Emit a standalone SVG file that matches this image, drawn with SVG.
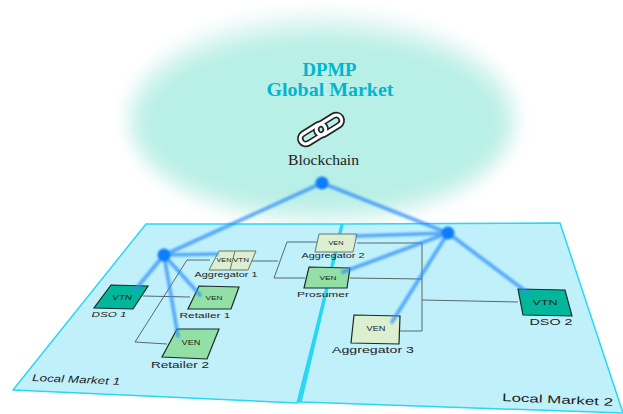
<svg xmlns="http://www.w3.org/2000/svg" width="623" height="414" viewBox="0 0 623 414">
<style>
.panel{fill:#c0f1fb;stroke:#2bd6f4;stroke-width:1.5;stroke-linejoin:round}
.wire{fill:none;stroke:#4a5a5c;stroke-width:.9}
.hub{fill:#0a7cff}
.link{fill:none;stroke:#2f8ffb;stroke-width:3.6;stroke-linecap:round;opacity:.75}
.node{stroke:#1c2a26;stroke-width:1.2}
.lite{stroke:#6a7466;stroke-width:1}
.vtn{fill:#00b79b}
.ven{fill:#93e0a6}
.agg{fill:#dcefd0}
.t{font-family:"Liberation Sans",Arial,sans-serif;fill:#222}
.c{text-anchor:middle}
.s{font-family:"Liberation Serif","Times New Roman",serif}
</style>
<defs>
<filter id="cloud" x="-30%" y="-30%" width="160%" height="160%"><feGaussianBlur stdDeviation="10"/></filter>
<filter id="halo" x="-30%" y="-30%" width="160%" height="160%"><feGaussianBlur stdDeviation="8"/></filter>
<filter id="soft" x="-10%" y="-10%" width="120%" height="120%"><feGaussianBlur stdDeviation=".9"/></filter>
</defs>
<rect width="623" height="414" fill="#fff"/>
<ellipse cx="322" cy="118" rx="196" ry="106" fill="#e6f8f5" filter="url(#halo)"/>
<ellipse cx="322" cy="122" rx="186" ry="90" fill="#b8efe6" filter="url(#cloud)"/>
<g id="market-1"><polygon class="panel" points="146,224 343,224 297,403 13,390"/><text class="t" font-style="italic" font-size="10" textLength="88" lengthAdjust="spacingAndGlyphs" transform="translate(32,381) rotate(2.5)">Local Market 1</text></g>
<g id="market-2"><polygon class="panel" points="343,224 560,223 623,413 301,402"/><text class="t" font-size="11" textLength="111" lengthAdjust="spacingAndGlyphs" transform="translate(502,401) rotate(2.5)">Local Market 2</text></g>
<line x1="342" y1="224" x2="299" y2="403" stroke="#2bd6f4" stroke-width="3"/>
<g id="wires">
<path class="wire" d="M143 296L190 297M210 260H187L135 342L167 344M248 261H278M317 242H287L274 278L305 278M357 243H422V331H400M350 278L422 279M422 300L518 302"/>
</g>
<g id="global-market"><text class="s c" x="329.500" y="75.500" font-size="19" font-weight="bold" fill="#00b5cf" textLength="54" lengthAdjust="spacingAndGlyphs">DPMP</text><text class="s c" x="330" y="96" font-size="19" font-weight="bold" fill="#00b5cf" textLength="127" lengthAdjust="spacingAndGlyphs">Global Market</text>
<g fill="none"><g stroke="#222" stroke-width="6.500"><rect x="299" y="128.500" width="28" height="11" rx="5.500" transform="rotate(-32 313 134)"/><rect x="315" y="119.500" width="28" height="11" rx="5.500" transform="rotate(-32 329 125)"/></g><g stroke="#fff" stroke-width="3.200"><rect x="299" y="128.500" width="28" height="11" rx="5.500" transform="rotate(-32 313 134)"/><rect x="315" y="119.500" width="28" height="11" rx="5.500" transform="rotate(-32 329 125)"/></g></g>
<text class="s c" x="323.500" y="165" font-size="15" fill="#222" textLength="71" lengthAdjust="spacingAndGlyphs">Blockchain</text></g>
<g id="dso-1"><polygon class="node vtn" points="111,285 148,286 133,309 94,308"/><text class="t c" x="122" y="300" font-size="7" font-style="italic" textLength="20" lengthAdjust="spacingAndGlyphs">VTN</text><text class="t c" x="109" y="317" font-size="8" font-style="italic" textLength="35" lengthAdjust="spacingAndGlyphs">DSO 1</text></g>
<g id="retailer-1"><polygon class="node ven" points="199,286 239,287 231,309 188,309"/><text class="t c" x="214" y="300" font-size="6" textLength="17" lengthAdjust="spacingAndGlyphs">VEN</text><text class="t c" x="205" y="318" font-size="8" textLength="51" lengthAdjust="spacingAndGlyphs">Retailer 1</text></g>
<g id="retailer-2"><polygon class="node ven" points="177,329 219,329 207,359 162,357"/><text class="t c" x="191" y="345" font-size="6.500" textLength="19" lengthAdjust="spacingAndGlyphs">VEN</text><text class="t c" x="180" y="368" font-size="9.500" textLength="58" lengthAdjust="spacingAndGlyphs">Retailer 2</text></g>
<g id="aggregator-1"><polygon class="node lite agg" points="219,251 256,251 248,270 209,270"/><line class="node lite" x1="235" y1="251" x2="230" y2="270"/><text class="t c" x="224" y="262" font-size="4.500" textLength="15" lengthAdjust="spacingAndGlyphs">VEN</text><text class="t c" x="241" y="262" font-size="4.500" textLength="16" lengthAdjust="spacingAndGlyphs">VTN</text><text class="t c" x="226" y="277" font-size="7.500" textLength="63" lengthAdjust="spacingAndGlyphs">Aggregator 1</text></g>
<g id="aggregator-2"><polygon class="node lite agg" points="319,234 357,234 353,252 315,252"/><text class="t c" x="336" y="245" font-size="5" textLength="15" lengthAdjust="spacingAndGlyphs">VEN</text><text class="t c" x="333" y="258" font-size="7.500" textLength="63" lengthAdjust="spacingAndGlyphs">Aggregator 2</text></g>
<g id="prosumer"><polygon class="node ven" points="309,267 350,268 347,288 304,288"/><text class="t c" x="328" y="280" font-size="5.500" textLength="17" lengthAdjust="spacingAndGlyphs">VEN</text><text class="t c" x="323" y="297" font-size="8" textLength="52" lengthAdjust="spacingAndGlyphs">Prosumer</text></g>
<g id="aggregator-3"><polygon class="node agg" points="354,315 400,316 399,344 351,343"/><text class="t c" x="376" y="331" font-size="6.500" textLength="19" lengthAdjust="spacingAndGlyphs">VEN</text><text class="t c" x="373" y="353" font-size="9.500" textLength="82" lengthAdjust="spacingAndGlyphs">Aggregator 3</text></g>
<g id="dso-2"><polygon class="node vtn" points="518,289 565,290 572,316 523,315"/><text class="t c" x="545" y="305" font-size="8" textLength="25" lengthAdjust="spacingAndGlyphs">VTN</text><text class="t c" x="551" y="325" font-size="9" textLength="43" lengthAdjust="spacingAndGlyphs">DSO 2</text></g>
<g id="connectors" filter="url(#soft)">
<path class="link" d="M322 183L164 255M322 183L448 233M164 255L135 290M164 255L200 295M164 255L178 336M164 255L217 254M448 233L357 236M448 233L343 272M448 233L392 322M448 233L528 293"/>
<circle class="hub" cx="322" cy="183" r="6.500"/><circle class="hub" cx="164" cy="255" r="6.500"/><circle class="hub" cx="448" cy="233" r="6.500"/>
</g>
</svg>
